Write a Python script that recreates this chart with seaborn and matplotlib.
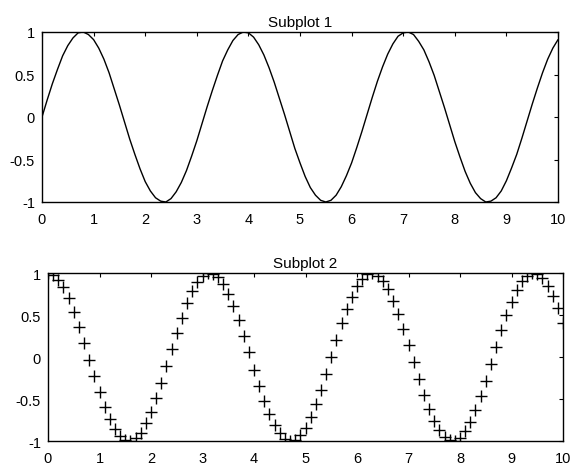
import matplotlib
matplotlib.use("Agg")
import matplotlib.pyplot as plt
import seaborn as sns
import pandas as pd

# Sample positions shared by both panels (step 0.1 from 0 to 10)
x_vals = [round(i / 10, 1) for i in range(0, 101)]

# Panel 1: solid curve
wave_top = [
    0.00, 0.20, 0.39, 0.56, 0.72, 0.84, 0.93, 0.99, 1.00, 0.97,
    0.91, 0.81, 0.68, 0.52, 0.33, 0.14, -0.06, -0.26, -0.44, -0.61,
    -0.76, -0.87, -0.95, -0.99, -1.00, -0.96, -0.88, -0.77, -0.63, -0.46,
    -0.28, -0.08, 0.12, 0.31, 0.49, 0.66, 0.79, 0.90, 0.97, 1.00,
    0.99, 0.94, 0.85, 0.73, 0.58, 0.41, 0.22, 0.03, -0.17, -0.37,
    -0.54, -0.70, -0.83, -0.92, -0.98, -1.00, -0.98, -0.92, -0.82, -0.69,
    -0.54, -0.36, -0.17, 0.03, 0.23, 0.42, 0.59, 0.74, 0.86, 0.95,
    0.99, 1.00, 0.97, 0.89, 0.79, 0.65, 0.49, 0.30, 0.11, -0.09,
    -0.29, -0.47, -0.64, -0.78, -0.89, -0.96, -1.00, -0.99, -0.95, -0.87,
    -0.75, -0.60, -0.44, -0.25, -0.05, 0.15, 0.34, 0.52, 0.68, 0.81,
    0.91,
]

# Panel 2: '+' markers
wave_bottom = [
    1.00, 0.98, 0.92, 0.83, 0.70, 0.54, 0.36, 0.17, -0.03, -0.23,
    -0.42, -0.59, -0.74, -0.86, -0.94, -0.99, -1.00, -0.97, -0.90, -0.79,
    -0.65, -0.49, -0.31, -0.11, 0.09, 0.28, 0.47, 0.64, 0.78, 0.89,
    0.96, 1.00, 0.99, 0.95, 0.87, 0.75, 0.61, 0.44, 0.25, 0.06,
    -0.15, -0.34, -0.52, -0.68, -0.81, -0.91, -0.98, -1.00, -0.99, -0.93,
    -0.84, -0.71, -0.56, -0.39, -0.20, 0.00, 0.20, 0.40, 0.57, 0.72,
    0.84, 0.93, 0.99, 1.00, 0.97, 0.91, 0.81, 0.67, 0.51, 0.33,
    0.14, -0.06, -0.26, -0.45, -0.62, -0.76, -0.87, -0.95, -0.99, -1.00,
    -0.96, -0.88, -0.77, -0.63, -0.46, -0.28, -0.08, 0.12, 0.32, 0.50,
    0.66, 0.80, 0.90, 0.97, 1.00, 0.99, 0.94, 0.85, 0.73, 0.58,
    0.41,
]

x_ticks = [0, 1, 2, 3, 4, 5, 6, 7, 8, 9, 10]
y_ticks = [-1, -0.5, 0, 0.5, 1]
y_ticklabels = ["-1", "-0.5", "0", "0.5", "1"]
titles = ["Subplot 1", "Subplot 2"]

sns.set_style("white")
plt.rcParams["font.family"] = ["Liberation Sans", "DejaVu Sans"]
plt.rcParams["xtick.direction"] = "in"
plt.rcParams["ytick.direction"] = "in"

df = pd.DataFrame({"x": x_vals, "top": wave_top, "bottom": wave_bottom})

W, H = 573, 477
fig = plt.figure(figsize=(W / 100, H / 100), dpi=100)

def box(l, t, r, b):
    return [l / W, 1 - b / H, (r - l) / W, (b - t) / H]

ax1 = fig.add_axes(box(42, 33, 558, 203))
ax2 = fig.add_axes(box(48, 274, 563, 442))

sns.lineplot(data=df, x="x", y="top", ax=ax1, color="black", linewidth=1.0)
sns.scatterplot(data=df, x="x", y="bottom", ax=ax2, color="black",
                marker="+", s=70, linewidth=1.0)

for ax, title in zip([ax1, ax2], titles):
    ax.set_xlim(0, 10)
    ax.set_ylim(-1, 1)
    ax.set_xticks(x_ticks)
    ax.set_xticklabels([str(v) for v in x_ticks])
    ax.set_yticks(y_ticks)
    ax.set_yticklabels(y_ticklabels)
    ax.set_xlabel("")
    ax.set_ylabel("")
    ax.set_title(title, fontsize=11, pad=4, color="black")
    ax.tick_params(axis="both", labelsize=10.5, length=3, width=0.8,
                   top=True, right=True, colors="black")
    ax.tick_params(axis="x", pad=7)
    ax.tick_params(axis="y", pad=5)
    for sp in ax.spines.values():
        sp.set_visible(True)
        sp.set_color("black")
        sp.set_linewidth(1.0)

fig.savefig("out.png", dpi=100, facecolor="white")
